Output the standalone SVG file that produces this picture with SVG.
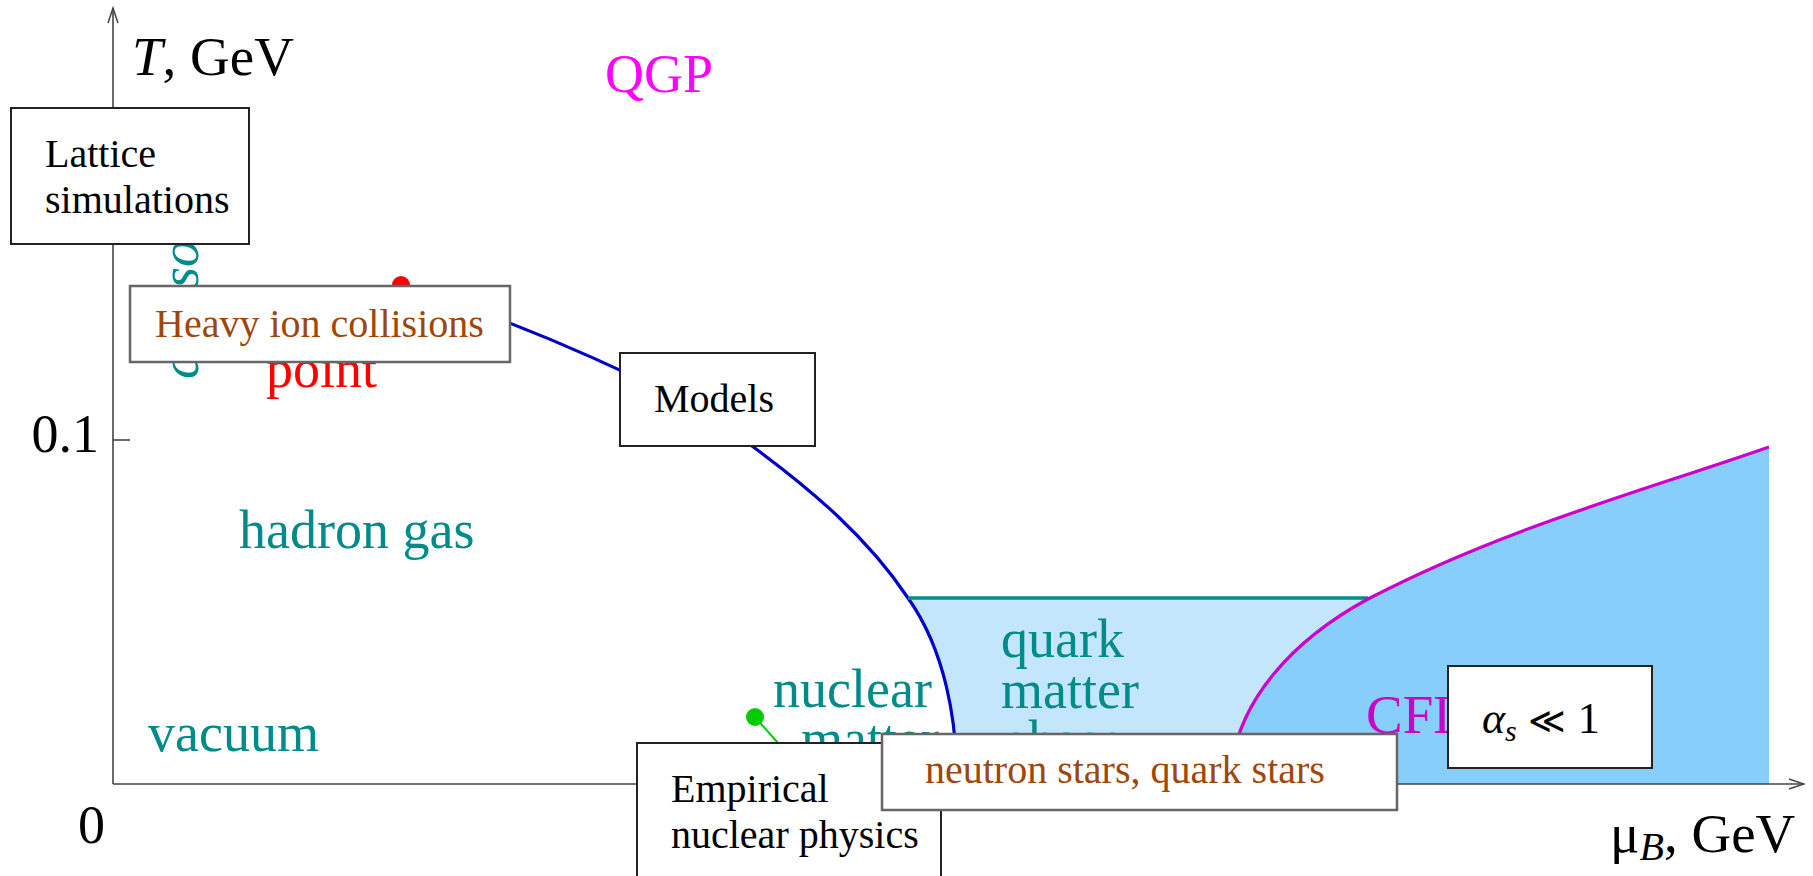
<svg xmlns="http://www.w3.org/2000/svg" width="1813" height="876" viewBox="0 0 1813 876">
<style>
text{font-family:"Liberation Serif","Times New Roman",serif;}
.big{font-size:54px;}
.teal{fill:#008b8b;}
.boxtxt{font-size:40px;fill:#000;}
.boxtxt.brown{fill:#a0460a;}
.box{fill:#fff;stroke:#222;stroke-width:2;}
.gbox{fill:#fff;stroke:#666;stroke-width:2.5;}
.axis{stroke:#444;stroke-width:1.6;fill:none;}
</style>
<defs>
<marker id="arr" markerWidth="18" markerHeight="12" refX="16" refY="6" orient="auto" markerUnits="userSpaceOnUse">
<path d="M1,1 L16,6 L1,11" fill="none" stroke="#444" stroke-width="1.5"/>
</marker>
</defs>
<rect width="1813" height="876" fill="#fff"/>

<g id="regions">
<path d="M908 598 L1368 598 C1298 637 1232 700 1230 784 L957 784 C957 720 945 650 908 598 Z" fill="#c4e6fc"/>
<path d="M1230 784 C1232 700 1298 637 1368 599 C1502 529 1640 492 1769 447 L1769 784 Z" fill="#87cefa"/>
</g>

<g id="axes">
<line class="axis" x1="113" y1="784" x2="113" y2="8" marker-end="url(#arr)"/>
<line class="axis" x1="113" y1="784" x2="1804" y2="784" marker-end="url(#arr)"/>
<line class="axis" x1="113" y1="440" x2="130" y2="440"/>
<text x="132" y="75" font-size="55"><tspan font-style="italic">T</tspan>, GeV</text>
<text x="99" y="452" font-size="54" text-anchor="end">0.1</text>
<text x="105" y="843" font-size="54" text-anchor="end">0</text>
<text x="1610" y="852" font-size="55">μ<tspan font-style="italic" font-size="40" dy="8">B</tspan><tspan dy="-8">, GeV</tspan></text>
</g>

<g id="boundaries">
<path d="M401 285 C520 322 680 390 752 446 C812 490 868 538 908 598 C945 650 957 720 957 784" fill="none" stroke="#0000cc" stroke-width="3.2"/>
<line x1="908" y1="598" x2="1368" y2="598" stroke="#008b8b" stroke-width="3.5"/>
<path d="M1230 784 C1232 700 1298 637 1368 599 C1502 529 1640 492 1769 447" fill="none" stroke="#cc00cc" stroke-width="3.2"/>
</g>

<g id="labels">
<text x="605" y="92" class="big" fill="#ff00ff">QGP</text>
<text x="239" y="548" class="big teal">hadron gas</text>
<text x="148" y="751" class="big teal">vacuum</text>
<text x="773" y="707" class="big teal">nuclear</text>
<text x="801" y="757" class="big teal">matter</text>
<text x="1001" y="657" class="big teal">quark</text>
<text x="1001" y="708" class="big teal">matter</text>
<text x="1001" y="758" class="big teal">phase</text>
<text x="1366" y="733" font-size="55" fill="#cc00cc">CFL</text>
<text x="266" y="387" class="big" fill="#ff0000">point</text>
<text transform="translate(198,379) rotate(-90)" class="big teal" font-style="italic">crossover</text>
<circle cx="401" cy="285" r="9" fill="#ff0000"/>
<circle cx="755" cy="717" r="9" fill="#00cc00"/>
</g>

<g id="connectors">
<line x1="755" y1="717" x2="778" y2="743" stroke="#00cc00" stroke-width="2"/>
</g>

<g id="lattice">
<rect class="box" x="11" y="108" width="238" height="136"/>
<text class="boxtxt" x="45" y="167">Lattice</text>
<text class="boxtxt" x="45" y="213">simulations</text>
</g>
<g id="heavy-ion">
<rect class="gbox" x="130" y="286" width="380" height="76"/>
<text class="boxtxt brown" x="155" y="337">Heavy ion collisions</text>
</g>
<g id="models">
<rect class="box" x="620" y="353" width="195" height="93"/>
<text class="boxtxt" x="654" y="412">Models</text>
</g>
<g id="empirical">
<rect class="box" x="637" y="743" width="304" height="150"/>
<text class="boxtxt" x="671" y="802">Empirical</text>
<text class="boxtxt" x="671" y="848">nuclear physics</text>
</g>
<g id="neutron-stars">
<rect class="gbox" x="882" y="734" width="515" height="76"/>
<text class="boxtxt brown" x="925" y="783">neutron stars, quark stars</text>
</g>
<g id="alpha">
<rect class="box" x="1448" y="666" width="204" height="102"/>
<text x="1482" y="733" font-size="44"><tspan font-style="italic">α</tspan><tspan font-style="italic" font-size="30" dy="8">s</tspan><tspan dy="-8" font-family="DejaVu Serif, serif" font-size="36"> ≪ </tspan><tspan>1</tspan></text>
</g>
</svg>
